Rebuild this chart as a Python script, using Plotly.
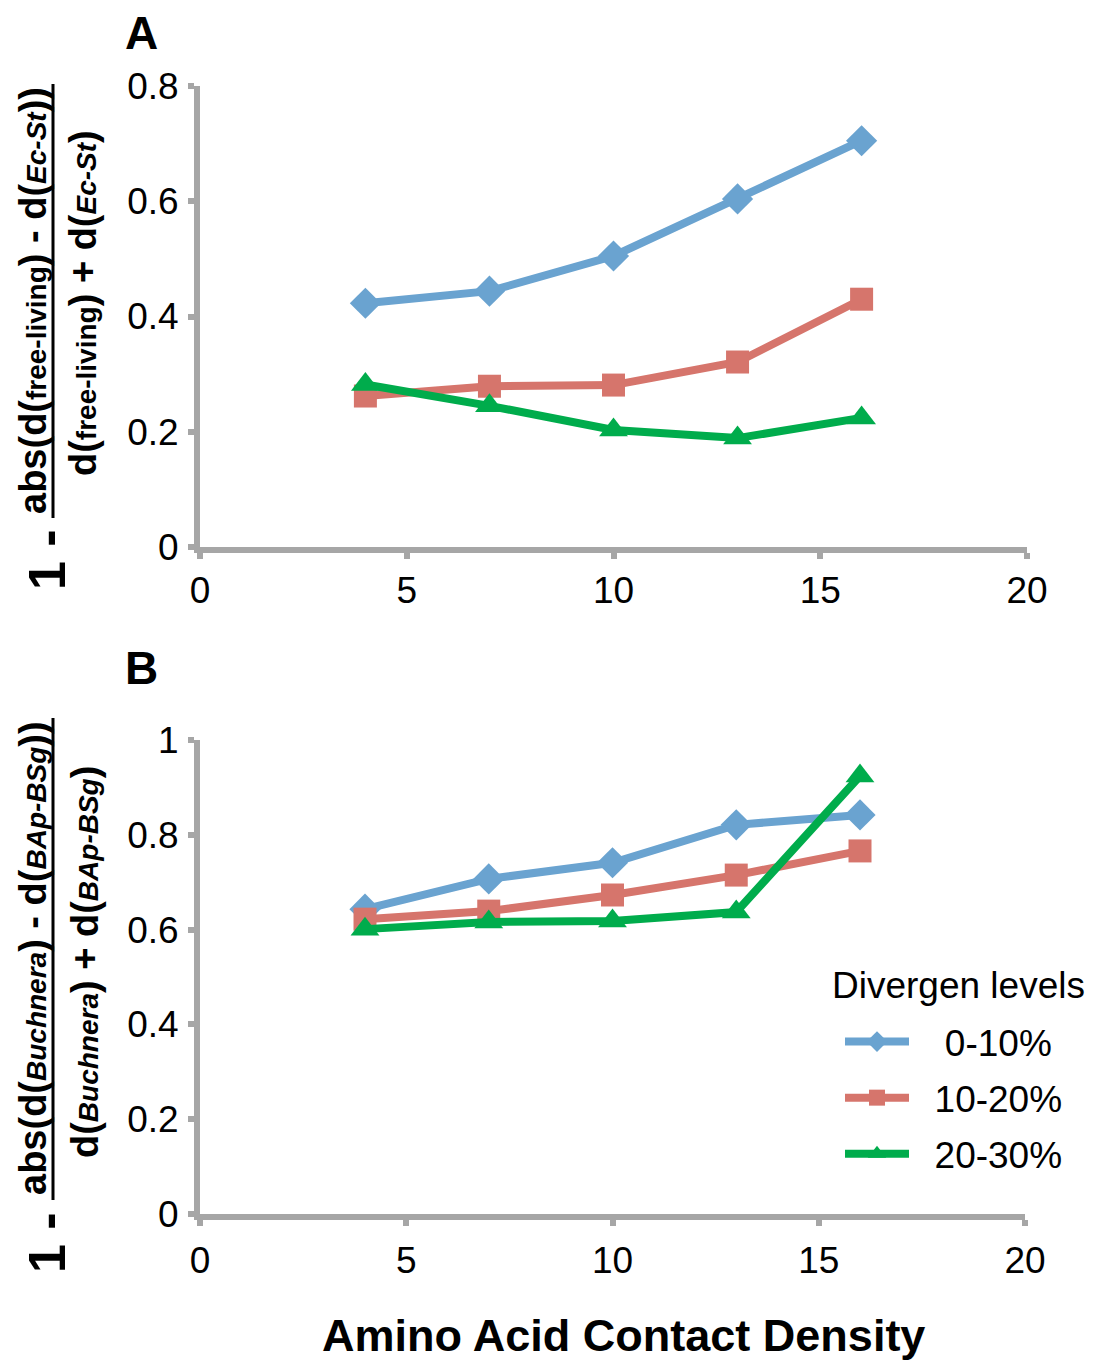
import plotly.graph_objects as go

x_density = [4, 7, 10, 13, 16]
series_names = ["0-10%", "10-20%", "20-30%"]
legend_labels = ["\u00a0\u00a0\u00a00-10%", "\u00a0\u00a010-20%", "\u00a0\u00a020-30%"]
legend_title = "Divergen levels"

# Panel A values
a_0_10 = [0.423, 0.444, 0.505, 0.604, 0.705]
a_10_20 = [0.262, 0.279, 0.281, 0.321, 0.430]
a_20_30 = [0.282, 0.245, 0.203, 0.189, 0.224]

# Panel B values
b_0_10 = [0.643, 0.707, 0.741, 0.821, 0.842]
b_10_20 = [0.622, 0.639, 0.673, 0.715, 0.766]
b_20_30 = [0.601, 0.616, 0.618, 0.637, 0.924]

x_ticks = [0, 5, 10, 15, 20]
a_yticks = [0, 0.2, 0.4, 0.6, 0.8]
a_ylabels = ["0", "0.2", "0.4", "0.6", "0.8"]
b_yticks = [0, 0.2, 0.4, 0.6, 0.8, 1]
b_ylabels = ["0", "0.2", "0.4", "0.6", "0.8", "1"]

colors = ["#6aa3d0", "#d6756c", "#00ac4c"]
symbols = ["diamond", "square", "triangle-up"]
msizes = [24, 23, 25]

FONT = "Liberation Sans, Arial, sans-serif"
GRAY = "#a6a6a6"
W, H = 1094, 1363

fig = go.Figure()

for i, (ya, yb) in enumerate(zip([a_0_10, a_10_20, a_20_30], [b_0_10, b_10_20, b_20_30])):
    fig.add_trace(go.Scatter(
        x=x_density, y=ya, xaxis="x", yaxis="y", mode="lines+markers",
        line=dict(color=colors[i], width=8),
        marker=dict(symbol=symbols[i], size=msizes[i], color=colors[i]),
        showlegend=False, name=series_names[i]))
    fig.add_trace(go.Scatter(
        x=x_density, y=yb, xaxis="x2", yaxis="y2", mode="lines+markers",
        line=dict(color=colors[i], width=8),
        marker=dict(symbol=symbols[i], size=msizes[i], color=colors[i]),
        showlegend=True, name=legend_labels[i], legendgroup=series_names[i]))

def px_x(v):
    return v / W

def px_y(v):
    return 1 - v / H

axis_common = dict(showline=True, linecolor=GRAY, linewidth=6, ticks="outside",
                   tickcolor=GRAY, tickwidth=6, ticklen=6, showgrid=False,
                   zeroline=False, automargin=False,
                   tickfont=dict(family=FONT, size=37, color="black"))

fig.update_layout(
    width=W, height=H, margin=dict(l=0, r=0, t=0, b=0, autoexpand=False),
    paper_bgcolor="white", plot_bgcolor="white",
    xaxis=dict(domain=[px_x(200), px_x(1027)], range=[0, 20], tickvals=x_ticks,
               anchor="y", ticklabelstandoff=0, **axis_common),
    yaxis=dict(domain=[px_y(547), px_y(86)], range=[0, 0.8], tickvals=a_yticks,
               ticktext=a_ylabels, anchor="x", ticklabelstandoff=2, **axis_common),
    xaxis2=dict(domain=[px_x(200), px_x(1025)], range=[0, 20], tickvals=x_ticks,
                anchor="y2", ticklabelstandoff=3, **axis_common),
    yaxis2=dict(domain=[px_y(1214), px_y(740)], range=[0, 1], tickvals=b_yticks,
                ticktext=b_ylabels, anchor="x2", ticklabelstandoff=2, **axis_common),
    legend=dict(x=px_x(840), y=px_y(1011), xanchor="left", yanchor="top",
                bgcolor="rgba(0,0,0,0)", font=dict(family=FONT, size=37, color="black"),
                itemwidth=64, tracegroupgap=5),
)

S = 'font-size:28px'

annotations = [
    dict(text="<b>A</b>", x=px_x(142), y=px_y(33), font=dict(size=46)),
    dict(text="<b>B</b>", x=px_x(142), y=px_y(668), font=dict(size=46)),
    dict(text="<b>Amino Acid Contact Density</b>", x=px_x(624), y=px_y(1335), font=dict(size=45)),
    dict(text=legend_title, x=px_x(958), y=px_y(985), font=dict(size=37)),
    # Panel A y title
    dict(text="<b>1 -</b>", x=px_x(47), y=px_y(560), font=dict(size=52), textangle=-90),
    dict(text=f"<b>abs(d(<span style='{S}'>free-living</span>) - d(<span style='{S}'><i>Ec-St</i></span>))</b>",
         x=px_x(33), y=px_y(301), font=dict(size=38), textangle=-90),
    dict(text=f"<b>d(<span style='{S}'>free-living</span>) + d(<span style='{S}'><i>Ec-St</i></span>)</b>",
         x=px_x(83), y=px_y(303), font=dict(size=38), textangle=-90),
    # Panel B y title
    dict(text="<b>1 -</b>", x=px_x(47), y=px_y(1243), font=dict(size=52), textangle=-90),
    dict(text=f"<b>abs(d(<span style='{S}'><i>Buchnera</i></span>) - d(<span style='{S}'><i>BAp-BSg</i></span>))</b>",
         x=px_x(33), y=px_y(958), font=dict(size=38), textangle=-90),
    dict(text=f"<b>d(<span style='{S}'><i>Buchnera</i></span>) + d(<span style='{S}'><i>BAp-BSg</i></span>)</b>",
         x=px_x(85), y=px_y(962), font=dict(size=38), textangle=-90),
]
for a in annotations:
    a.update(xref="paper", yref="paper", showarrow=False, xanchor="center", yanchor="middle")
    a["font"] = dict(family=FONT, color="black", size=a["font"]["size"])
fig.update_layout(annotations=annotations)

# Fraction bars of the axis titles
fig.add_shape(type="line", xref="paper", yref="paper", x0=px_x(53), x1=px_x(53),
              y0=px_y(84), y1=px_y(518), line=dict(color="black", width=3))
fig.add_shape(type="line", xref="paper", yref="paper", x0=px_x(53), x1=px_x(53),
              y0=px_y(718), y1=px_y(1200), line=dict(color="black", width=3))

fig.write_html("out.html", config={"displayModeBar": False},
               post_script="document.body.style.margin='0';document.body.style.overflow='hidden';")
